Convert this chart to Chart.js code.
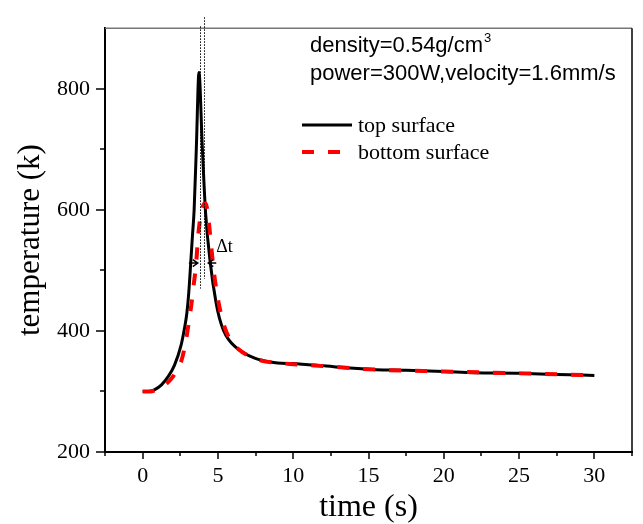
<!DOCTYPE html>
<html>
<head>
<meta charset="utf-8">
<script src="https://cdn.jsdelivr.net/npm/chart.js@4"></script>
<style>
  html, body { margin: 0; padding: 0; background: #fff; }
  canvas { display: block; }
</style>
</head>
<body>
<canvas id="tempChart" width="643" height="524"></canvas>
<script>
/* temperature history of top / bottom surface */

const topTime = [0, 0.5, 0.8, 1.25, 1.68, 2.11, 2.55, 2.77, 2.94, 3.06, 3.2, 3.31, 3.42, 3.57, 3.74,
    3.96, 4.18, 4.5, 4.88, 5.1, 5.37, 5.7, 6.14, 6.7, 7.44, 8.2, 8.96, 10, 11, 12.2, 13.5, 15.5,
    17.5, 20, 22, 25, 27.5, 30];
const topTemp = [300, 300.5, 303, 311, 324, 343, 376, 403, 430, 462, 515, 558, 600, 705, 827,
    705, 595, 511, 446, 421, 401, 386, 374, 364, 355, 350, 347, 346, 344, 342, 339, 336,
    335, 333, 331, 330, 328, 326.5];

const bottomTime = [0, 0.5, 0.8, 1.25, 1.68, 2.0, 2.33, 2.55, 2.75, 2.93, 3.1, 3.25, 3.4, 3.53, 3.7,
    3.85, 4.0, 4.16, 4.3, 4.5, 4.72, 5.05, 5.49, 5.9, 6.35, 7.1, 7.87, 9, 10.05, 12.2, 15.5,
    20, 25, 30];
const bottomTemp = [300, 300, 301.5, 306, 315, 324, 338, 349, 368, 392, 420, 446, 478, 505, 560,
    590, 606, 611, 600, 554, 500, 446, 403, 383, 370, 358, 351, 347, 345, 341.5, 336,
    333, 330, 326.5];

const xTickLabels = [0, 5, 10, 15, 20, 25, 30];
const yTickLabels = [200, 400, 600, 800];

// Δt markers (data units)
const peakLines = [{ t: 3.78, from: 470, to: 903 }, { t: 4.07, from: 486, to: 918 }];
const dtLevel = 512;

const serif = "'Liberation Serif', 'Times New Roman', serif";
const sans = "'Liberation Sans', Arial, sans-serif";

const toPoints = (xs, ys) => xs.map((v, i) => ({ x: v, y: ys[i] }));

const decorations = {
    id: "decorations",
    afterDraw(chart) {
        const { ctx, chartArea: a, scales: { x, y } } = chart;
        ctx.save();

        // frame top / right
        ctx.lineWidth = 1.5;
        ctx.strokeStyle = "#777";
        ctx.beginPath(); ctx.moveTo(a.left, a.top); ctx.lineTo(a.right, a.top); ctx.stroke();
        ctx.strokeStyle = "#000";
        ctx.beginPath(); ctx.moveTo(a.right, a.top); ctx.lineTo(a.right, a.bottom); ctx.stroke();

        // tick marks (outside)
        ctx.lineWidth = 1.5;
        x.ticks.forEach(t => {
            const px = Math.round(x.getPixelForValue(t.value));
            const len = xTickLabels.includes(t.value) ? 7 : 4;
            ctx.beginPath(); ctx.moveTo(px, a.bottom); ctx.lineTo(px, a.bottom + len); ctx.stroke();
        });
        y.ticks.forEach(t => {
            if (t.value >= 900) return;
            const py = Math.round(y.getPixelForValue(t.value));
            const len = yTickLabels.includes(t.value) ? 9 : 5;
            ctx.beginPath(); ctx.moveTo(a.left, py); ctx.lineTo(a.left - len, py); ctx.stroke();
        });

        // dotted peak lines
        ctx.lineWidth = 1;
        ctx.setLineDash([1.5, 1.5]);
        peakLines.forEach(l => {
            const px = Math.round(x.getPixelForValue(l.t)) + 0.5;
            ctx.beginPath();
            ctx.moveTo(px, y.getPixelForValue(l.to));
            ctx.lineTo(px, y.getPixelForValue(l.from));
            ctx.stroke();
        });
        ctx.setLineDash([]);

        // Δt arrows
        const ay = y.getPixelForValue(dtLevel);
        const arrow = (x0, x1) => {
            const dir = Math.sign(x1 - x0);
            ctx.beginPath();
            ctx.moveTo(x0, ay); ctx.lineTo(x1, ay);
            ctx.moveTo(x1 - 5 * dir, ay - 3.5); ctx.lineTo(x1, ay); ctx.lineTo(x1 - 5 * dir, ay + 3.5);
            ctx.stroke();
        };
        ctx.lineWidth = 1.5;
        arrow(x.getPixelForValue(3.07), x.getPixelForValue(3.66));
        arrow(x.getPixelForValue(4.89), x.getPixelForValue(4.36));
        ctx.fillStyle = "#000";
        ctx.font = "18px " + serif;
        ctx.textBaseline = "middle";
        ctx.fillText("\u0394t", x.getPixelForValue(4.89), y.getPixelForValue(538));

        // parameters
        ctx.textBaseline = "alphabetic";
        ctx.font = "22px " + sans;
        const line1 = "density=0.54g/cm";
        ctx.fillText(line1, 310, 52);
        const w1 = ctx.measureText(line1).width;
        ctx.font = "13px " + sans;
        ctx.fillText("3", 310 + w1 + 1, 42);
        ctx.font = "22px " + sans;
        ctx.fillText("power=300W,velocity=1.6mm/s", 310, 80);

        // legend
        const rows = [125, 152];
        chart.data.datasets.forEach((ds, i) => {
            const ly = rows[i];
            ctx.strokeStyle = ds.borderColor;
            ctx.lineWidth = ds.borderWidth;
            ctx.setLineDash(ds.borderDash || []);
            ctx.beginPath(); ctx.moveTo(302, ly); ctx.lineTo(352, ly); ctx.stroke();
            ctx.setLineDash([]);
            ctx.font = "22px " + serif;
            ctx.fillStyle = "#000";
            ctx.fillText(ds.label, 358, ly + 7);
        });

        ctx.restore();
    }
};

new Chart(document.getElementById("tempChart"), {
    type: "line",
    data: {
        datasets: [{
            label: "top surface",
            data: toPoints(topTime, topTemp),
            borderColor: "#000000",
            borderWidth: 3,
            pointRadius: 0,
            cubicInterpolationMode: "monotone",
            order: 2
        }, {
            label: "bottom surface",
            data: toPoints(bottomTime, bottomTemp),
            borderColor: "#ff0000",
            borderWidth: 4,
            borderDash: [12, 14],
            borderCapStyle: "butt",
            pointRadius: 0,
            cubicInterpolationMode: "monotone",
            order: 1
        }]
    },
    options: {
        responsive: false,
        animation: false,
        devicePixelRatio: 1,
        layout: { padding: { top: 20, right: 1.5, left: 0, bottom: 0 } },
        plugins: { legend: { display: false }, tooltip: { enabled: false } },
        scales: {
            x: {
                type: "linear",
                min: -2.5, max: 32.5,
                grid: { display: false, drawTicks: false },
                border: { display: true, color: "#000", width: 2 },
                ticks: {
                    stepSize: 2.5, autoSkip: false, maxRotation: 0, padding: 11,
                    color: "#000", font: { family: serif, size: 22 },
                    callback: v => xTickLabels.includes(v) ? String(v) : ""
                },
                title: {
                    display: true, text: "time (s)", color: "#000",
                    font: { family: serif, size: 32, lineHeight: 1 },
                    padding: { top: 0, bottom: 0 }
                },
                afterFit: s => { s.height = 72; }
            },
            y: {
                min: 200, max: 900,
                grid: { display: false, drawTicks: false },
                border: { display: true, color: "#000", width: 2 },
                ticks: {
                    stepSize: 100, autoSkip: false, padding: 15,
                    color: "#000", font: { family: serif, size: 22 },
                    callback: v => yTickLabels.includes(v) ? String(v) : ""
                },
                title: {
                    display: true, text: "temperature (k)", color: "#000",
                    font: { family: serif, size: 31, lineHeight: 1 },
                    padding: { top: 15, bottom: 0 }
                },
                afterFit: s => { s.width = 105; }
            }
        }
    },
    plugins: [decorations]
});
</script>
</body>
</html>
